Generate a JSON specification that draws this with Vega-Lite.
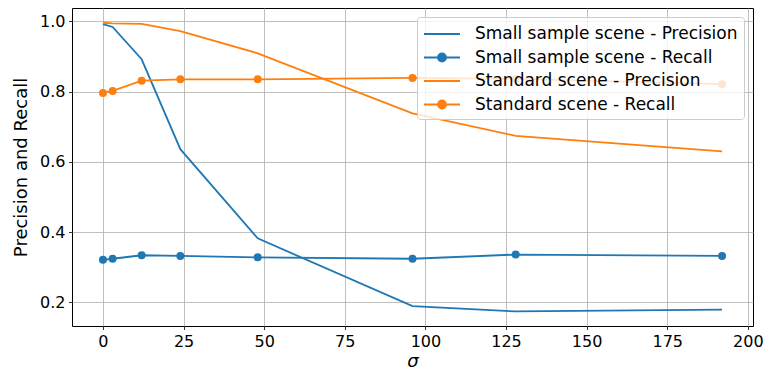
{
  "$schema": "https://vega.github.io/schema/vega-lite/v6.json",
  "width": 681,
  "height": 318,
  "autosize": {"type": "none"},
  "padding": {"left": 72, "top": 8, "right": 13, "bottom": 44},
  "background": "white",
  "config": {
    "font": "DejaVu Sans",
    "view": {"stroke": "black", "strokeWidth": 1},
    "axis": {
      "domain": false,
      "grid": true,
      "gridColor": "#b0b0b0",
      "gridWidth": 0.8,
      "tickColor": "black",
      "tickSize": 3.5,
      "tickWidth": 0.8,
      "labelColor": "black",
      "labelFontSize": 16,
      "labelPadding": 3.5,
      "labelFont": "DejaVu Sans",
      "titleColor": "black",
      "titleFontSize": 18,
      "titleFontWeight": "normal",
      "titleFont": "DejaVu Sans"
    }
  },
  "data": {
    "values": [
      {"series": "Small sample scene - Precision", "metric": "Precision", "sigma": 0, "value": 0.992},
      {"series": "Small sample scene - Precision", "metric": "Precision", "sigma": 3, "value": 0.984},
      {"series": "Small sample scene - Precision", "metric": "Precision", "sigma": 12, "value": 0.892},
      {"series": "Small sample scene - Precision", "metric": "Precision", "sigma": 24, "value": 0.636},
      {"series": "Small sample scene - Precision", "metric": "Precision", "sigma": 48, "value": 0.382},
      {"series": "Small sample scene - Precision", "metric": "Precision", "sigma": 96, "value": 0.189},
      {"series": "Small sample scene - Precision", "metric": "Precision", "sigma": 128, "value": 0.174},
      {"series": "Small sample scene - Precision", "metric": "Precision", "sigma": 192, "value": 0.179},
      {"series": "Small sample scene - Recall", "metric": "Recall", "sigma": 0, "value": 0.321},
      {"series": "Small sample scene - Recall", "metric": "Recall", "sigma": 3, "value": 0.324},
      {"series": "Small sample scene - Recall", "metric": "Recall", "sigma": 12, "value": 0.334},
      {"series": "Small sample scene - Recall", "metric": "Recall", "sigma": 24, "value": 0.332},
      {"series": "Small sample scene - Recall", "metric": "Recall", "sigma": 48, "value": 0.328},
      {"series": "Small sample scene - Recall", "metric": "Recall", "sigma": 96, "value": 0.324},
      {"series": "Small sample scene - Recall", "metric": "Recall", "sigma": 128, "value": 0.336},
      {"series": "Small sample scene - Recall", "metric": "Recall", "sigma": 192, "value": 0.332},
      {"series": "Standard scene - Precision", "metric": "Precision", "sigma": 0, "value": 0.996},
      {"series": "Standard scene - Precision", "metric": "Precision", "sigma": 3, "value": 0.994},
      {"series": "Standard scene - Precision", "metric": "Precision", "sigma": 12, "value": 0.993},
      {"series": "Standard scene - Precision", "metric": "Precision", "sigma": 24, "value": 0.972},
      {"series": "Standard scene - Precision", "metric": "Precision", "sigma": 48, "value": 0.909},
      {"series": "Standard scene - Precision", "metric": "Precision", "sigma": 96, "value": 0.738},
      {"series": "Standard scene - Precision", "metric": "Precision", "sigma": 128, "value": 0.674},
      {"series": "Standard scene - Precision", "metric": "Precision", "sigma": 192, "value": 0.630},
      {"series": "Standard scene - Recall", "metric": "Recall", "sigma": 0, "value": 0.796},
      {"series": "Standard scene - Recall", "metric": "Recall", "sigma": 3, "value": 0.802},
      {"series": "Standard scene - Recall", "metric": "Recall", "sigma": 12, "value": 0.831},
      {"series": "Standard scene - Recall", "metric": "Recall", "sigma": 24, "value": 0.835},
      {"series": "Standard scene - Recall", "metric": "Recall", "sigma": 48, "value": 0.835},
      {"series": "Standard scene - Recall", "metric": "Recall", "sigma": 96, "value": 0.839},
      {"series": "Standard scene - Recall", "metric": "Recall", "sigma": 128, "value": 0.836},
      {"series": "Standard scene - Recall", "metric": "Recall", "sigma": 192, "value": 0.821}
    ]
  },
  "encoding": {
    "x": {
      "field": "sigma",
      "type": "quantitative",
      "scale": {"domain": [-9.6, 201.6], "nice": false, "zero": false},
      "axis": {
        "values": [0, 25, 50, 75, 100, 125, 150, 175, 200],
        "title": "σ",
        "titleFontStyle": "italic",
        "titlePadding": 3
      }
    },
    "y": {
      "field": "value",
      "type": "quantitative",
      "scale": {"domain": [0.1325, 1.038], "nice": false, "zero": false},
      "axis": {
        "values": [0.2, 0.4, 0.6, 0.8, 1.0],
        "format": ".1f",
        "title": "Precision and Recall",
        "titlePadding": 9
      }
    },
    "color": {
      "field": "series",
      "type": "nominal",
      "scale": {
        "domain": ["Small sample scene - Precision", "Small sample scene - Recall", "Standard scene - Precision", "Standard scene - Recall"],
        "range": ["#1f77b4", "#1f77b4", "#ff7f0e", "#ff7f0e"]
      },
      "legend": {
        "title": null,
        "orient": "top-right",
        "offset": 9,
        "fillColor": "rgba(255,255,255,0.8)",
        "strokeColor": "#cccccc",
        "cornerRadius": 3,
        "padding": 6,
        "labelFontSize": 17,
        "labelColor": "black",
        "labelFont": "DejaVu Sans",
        "labelLimit": 400,
        "symbolSize": 400,
        "symbolOffset": 8,
        "labelOffset": 22,
        "rowPadding": 4.5,
        "symbolStrokeWidth": 1.8,
        "encode": {
          "symbols": {
            "update": {
              "shape": {"signal": "indexof(datum.value, 'Recall') >= 0 ? 'M-1.8,0H1.8M-0.4,0A0.4,0.4 0 1,1 0.4,0A0.4,0.4 0 1,1 -0.4,0Z' : 'M-1.8,0H1.8'"},
              "fill": {"scale": "color", "field": "value"},
              "stroke": {"scale": "color", "field": "value"},
              "opacity": {"value": 1},
              "strokeWidth": {"value": 1.8}
            }
          }
        }
      }
    }
  },
  "layer": [
    {"mark": {"type": "line", "strokeWidth": 1.8}},
    {
      "transform": [{"filter": "datum.metric === 'Recall'"}],
      "mark": {"type": "point", "filled": true, "size": 64, "opacity": 1, "shape": "circle"}
    }
  ]
}
